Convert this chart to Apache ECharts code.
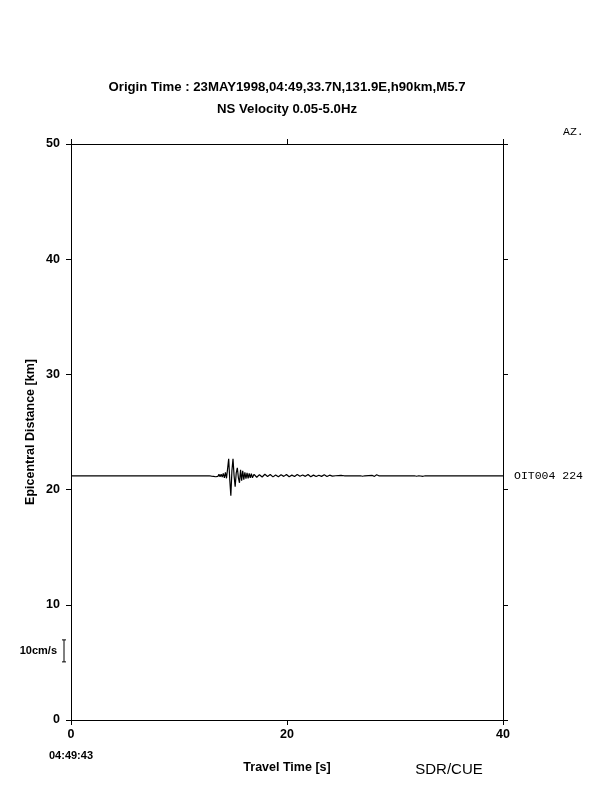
<!DOCTYPE html>
<html>
<head>
<meta charset="utf-8">
<script src="https://cdn.jsdelivr.net/npm/echarts@6/dist/echarts.min.js"></script>
<style>html,body{margin:0;padding:0;background:#fff}#c{width:612px;height:792px}</style>
</head>
<body>
<div id="c"></div>
<script>
// ---- data ----
const titleLine1 = "Origin Time : 23MAY1998,04:49,33.7N,131.9E,h90km,M5.7";
const titleLine2 = "NS Velocity 0.05-5.0Hz";
const stationName = "OIT004";
const stationAz = "224";
const stationDist = 21.2;          // km
const originClock = "04:49:43";
const xTicks = [0, 20, 40];        // s
const yTicks = [0, 10, 20, 30, 40, 50]; // km
const scaleBarCms = 10;            // cm/s
const kmPerCms = 0.191;            // trace gain: km of plot per cm/s
// waveform: time (s) and NS velocity (cm/s)
const times = [0, 12.5, 12.8, 12.9, 13.0, 13.1, 13.2, 13.3, 13.4, 13.5, 13.6, 13.7, 13.8, 13.9, 14.0,
  14.1, 14.2, 14.3, 14.4, 14.5, 14.6, 14.7, 14.8, 14.9, 15.0, 15.1, 15.2, 15.3, 15.4, 15.5, 15.6,
  15.7, 15.8, 15.9, 16.0, 16.1, 16.2, 16.3, 16.4, 16.5, 16.6, 16.7, 16.8, 16.95, 17.2, 17.45, 17.7,
  17.95, 18.2, 18.45, 18.7, 18.95, 19.2, 19.45, 19.7, 19.95, 20.2, 20.45, 20.7, 20.95, 21.2, 21.45,
  21.7, 21.95, 22.2, 22.45, 22.7, 22.95, 23.2, 23.45, 23.7, 23.95, 24.2, 24.5, 25.0, 25.3, 26.8,
  27.0, 27.2, 27.9, 28.1, 28.3, 28.5, 30.0, 30.1, 30.3, 31.8, 32.0, 32.2, 32.6, 32.8, 34.8, 34.95,
  35.1, 40];
const velocity = [0, 0, 0, 0.27, -0.18, 0.36, -0.27, 0.18, -0.45, 0.45, -0.27, 0.64, -0.45, 0.73, -0.55,
  1.09, -0.91, 1.59, -1.14, 3.18, 7.73, -1.82, -9.09, 2.27, 7.73, 0, -5.0, 1.36, 3.64, -0.91, -3.18,
  2.73, -2.27, 2.27, -1.82, 1.59, -1.36, 1.36, -1.14, 1.14, -0.91, 0.91, -0.91, 0.68, -0.68, 0.5, -0.55,
  0.68, -0.36, 0.55, -0.5, 0.36, -0.45, 0.5, -0.27, 0.59, -0.45, 0.3, -0.36, 0.59, -0.2, 0.36,
  -0.27, 0.55, -0.45, 0.3, -0.36, 0.27, -0.27, 0.45, -0.36, 0.27, -0.18, 0, 0.18, 0, 0,
  -0.23, 0, 0.14, -0.27, 0.45, 0, 0, 0.27, 0, 0, -0.23, 0, -0.23, 0, 0, -0.18,
  0, 0];

// ---- chart ----
const chart = echarts.init(document.getElementById('c'), null, {renderer: 'canvas'});
const tracePts = times.map((t, i) => [t, stationDist + velocity[i] * kmPerCms]);
const sans = 'Liberation Sans';
const axisCommon = (extra) => Object.assign({
  type: 'value', splitLine: {show: false},
  axisLine: {show: true, onZero: false, lineStyle: {color: '#000', width: 1}},
  axisTick: {show: true, length: 5, inside: false, lineStyle: {color: '#000', width: 1}},
}, extra);

chart.setOption({
  animation: false,
  backgroundColor: '#fff',
  grid: {left: 71, right: 109, top: 144, bottom: 72, containLabel: false},
  xAxis: [
    axisCommon({position: 'bottom', min: xTicks[0], max: xTicks[xTicks.length - 1], interval: xTicks[1] - xTicks[0],
      axisLabel: {show: true, color: '#000', fontFamily: sans, fontSize: 12.5, fontWeight: 'bold', margin: 8}}),
    axisCommon({position: 'top', min: xTicks[0], max: xTicks[xTicks.length - 1], interval: xTicks[1] - xTicks[0],
      axisLabel: {show: false}})
  ],
  yAxis: [
    axisCommon({position: 'left', min: yTicks[0], max: yTicks[yTicks.length - 1], interval: yTicks[1] - yTicks[0],
      axisLabel: {show: true, color: '#000', fontFamily: sans, fontSize: 12.5, fontWeight: 'bold', margin: 11}}),
    axisCommon({position: 'right', min: yTicks[0], max: yTicks[yTicks.length - 1], interval: yTicks[1] - yTicks[0],
      axisLabel: {show: false}})
  ],
  series: [{
    type: 'line', xAxisIndex: 0, yAxisIndex: 0, data: tracePts,
    showSymbol: false, symbol: 'none', clip: false,
    lineStyle: {color: '#000', width: 1.2},
    endLabel: {show: true, formatter: stationName + ' ' + stationAz, distance: 11,
      fontFamily: 'Liberation Mono', fontSize: 11.5, color: '#000'}
  }]
});

// derived elements positioned through the chart's own scales
const x0 = chart.convertToPixel({xAxisIndex: 0}, xTicks[0]);
const xMid = chart.convertToPixel({xAxisIndex: 0}, (xTicks[0] + xTicks[xTicks.length - 1]) / 2);
const yMid = chart.convertToPixel({yAxisIndex: 0}, (yTicks[0] + yTicks[yTicks.length - 1]) / 2);
const barCenterKm = 6.0;
const yTop = chart.convertToPixel({yAxisIndex: 0}, barCenterKm + scaleBarCms * kmPerCms / 2);
const yBot = chart.convertToPixel({yAxisIndex: 0}, barCenterKm - scaleBarCms * kmPerCms / 2);
const bx = x0 - 7;
chart.setOption({
  graphic: [
    {type: 'text', x: xMid, y: 81, style: {text: titleLine1, font: 'bold 13.2px "Liberation Sans"', fill: '#000', align: 'center', verticalAlign: 'top'}},
    {type: 'text', x: xMid, y: 103, style: {text: titleLine2, font: 'bold 13.2px "Liberation Sans"', fill: '#000', align: 'center', verticalAlign: 'top'}},
    {type: 'text', x: 563, y: 126, style: {text: 'AZ.', font: '11.5px "Liberation Mono"', fill: '#000'}},
    {type: 'text', x: xMid, y: 761, style: {text: 'Travel Time [s]', font: 'bold 12.5px "Liberation Sans"', fill: '#000', align: 'center', verticalAlign: 'top'}},
    {type: 'text', x: 449, y: 762, style: {text: 'SDR/CUE', font: '15px "Liberation Sans"', fill: '#000', align: 'center', verticalAlign: 'top'}},
    {type: 'text', x: 31, y: yMid, rotation: Math.PI / 2,
      style: {text: 'Epicentral Distance [km]', font: 'bold 12.5px "Liberation Sans"', fill: '#000', align: 'center', verticalAlign: 'middle'}},
    {type: 'polyline', shape: {points: [[bx - 2, yTop], [bx + 2, yTop]]}, style: {stroke: '#000', lineWidth: 1}},
    {type: 'polyline', shape: {points: [[bx, yTop], [bx, yBot]]}, style: {stroke: '#000', lineWidth: 1}},
    {type: 'polyline', shape: {points: [[bx - 2, yBot], [bx + 2, yBot]]}, style: {stroke: '#000', lineWidth: 1}},
    {type: 'text', x: bx - 7, y: (yTop + yBot) / 2,
      style: {text: scaleBarCms + 'cm/s', font: 'bold 11px "Liberation Sans"', fill: '#000', align: 'right', verticalAlign: 'middle'}},
    {type: 'text', x: x0, y: 750,
      style: {text: originClock, font: 'bold 11px "Liberation Sans"', fill: '#000', align: 'center', verticalAlign: 'top'}}
  ]
});
</script>
</body>
</html>
